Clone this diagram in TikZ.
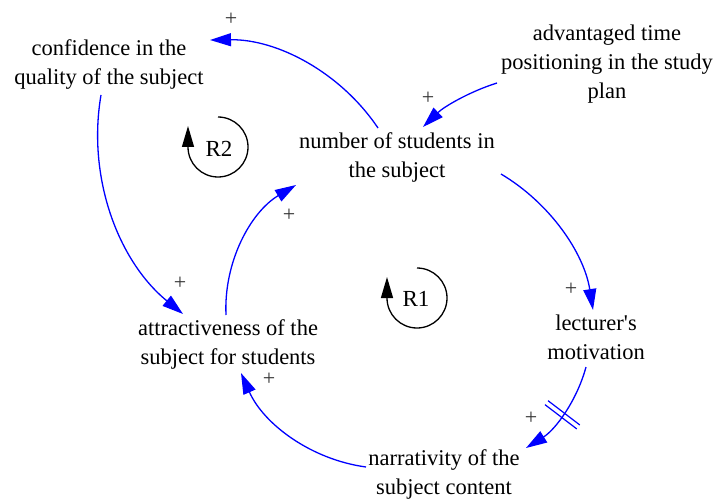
\documentclass[tikz,border=0pt]{standalone}
\usepackage{fontspec}
\setmainfont{Liberation Serif}
\usetikzlibrary{arrows.meta,decorations.markings}
\newcommand{\mystrut}{\rule[-5pt]{0pt}{21pt}}
\begin{document}
\begin{tikzpicture}[x=1pt,y=-1pt,
  lbl/.style={align=center, inner sep=0pt, font=\fontsize{22.5}{29}\selectfont},
  link/.style={draw=blue, line width=1.3pt, -{Triangle[length=21pt,width=13pt]}},
  pol/.style={font=\fontsize{22}{22}\selectfont, text=black!80, inner sep=0pt},
  loopc/.style={draw=black, line width=1.3pt, -{Triangle[length=21pt,width=12pt]}},
  looplbl/.style={font=\fontsize{23}{23}\selectfont, inner sep=0pt},
  hatch/.style={postaction={decorate, decoration={markings,
     mark=at position #1 with {\draw[blue,line width=1.2pt,-] (-2.5,-20) -- (-2.5,20) (2.5,-20) -- (2.5,20);}}}}
]
\useasboundingbox (0,0) rectangle (715,500);

% variables
\node[lbl] (conf) at (109,65) {\mystrut confidence in the\\\mystrut quality of the subject};
\node[lbl] (adv) at (607,64) {\mystrut advantaged time\\\mystrut positioning in the study\\\mystrut plan};
\node[lbl] (num) at (397,158) {\mystrut number of students in\\\mystrut the subject};
\node[lbl] (lect) at (596,339) {\mystrut lecturer\textquotesingle s\\\mystrut motivation};
\node[lbl] (attr) at (228,344) {\mystrut attractiveness of the\\\mystrut subject for students};
\node[lbl] (narr) at (444,474) {\mystrut narrativity of the\\\mystrut subject content};

% causal links (circular arcs)
\draw[link] ([shift={(-19,-30)}]num.center) .. controls (340.4,72.2) and (277.3,39.1) .. ([shift={(101,-25)}]conf.center);
\draw[link] ([shift={(-110,19)}]adv.center) .. controls (469.3,91.7) and (443.9,106.8) .. ([shift={(26,-31)}]num.center);
\draw[link] ([shift={(104,16)}]num.center) .. controls (550.3,203.3) and (584.1,253.3) .. ([shift={(-3,-29)}]lect.center);
\draw[link,hatch=0.52] ([shift={(-10,28)}]lect.center) .. controls (576.9,400.6) and (555.5,429.5) .. ([shift={(82,-26)}]narr.center);
\draw[link] ([shift={(-78,-7)}]narr.center) .. controls (310.8,459.5) and (263.5,423.9) .. ([shift={(13,29)}]attr.center);
\draw[link] ([shift={(-2,-29)}]attr.center) .. controls (223.6,262) and (250.5,212.2) .. ([shift={(-101,27)}]num.center);
\draw[link] ([shift={(-8,30)}]conf.center) .. controls (86.9,177.4) and (118.2,261.2) .. ([shift={(-45,-30)}]attr.center);

% polarities
\node[pol] (p1) at (231,19) {+};
\node[pol] (p2) at (428,98) {+};
\node[pol] (p3) at (571,289) {+};
\node[pol] (p4) at (531,418) {+};
\node[pol] (p5) at (269,379) {+};
\node[pol] (p6) at (289,215) {+};
\node[pol] (p7) at (180,283) {+};

% loop identifiers
\node[looplbl] (r2) at (219,149) {R2};
\draw[loopc] ([shift={(-1,-32)}]r2.center) arc[start angle=-90, end angle=180, radius=30] -- ++(0,-21);
\node[looplbl] (r1) at (416,299) {R1};
\draw[loopc] ([shift={(1,-31)}]r1.center) arc[start angle=-90, end angle=180, radius=30] -- ++(0,-21);
\end{tikzpicture}
\end{document}
